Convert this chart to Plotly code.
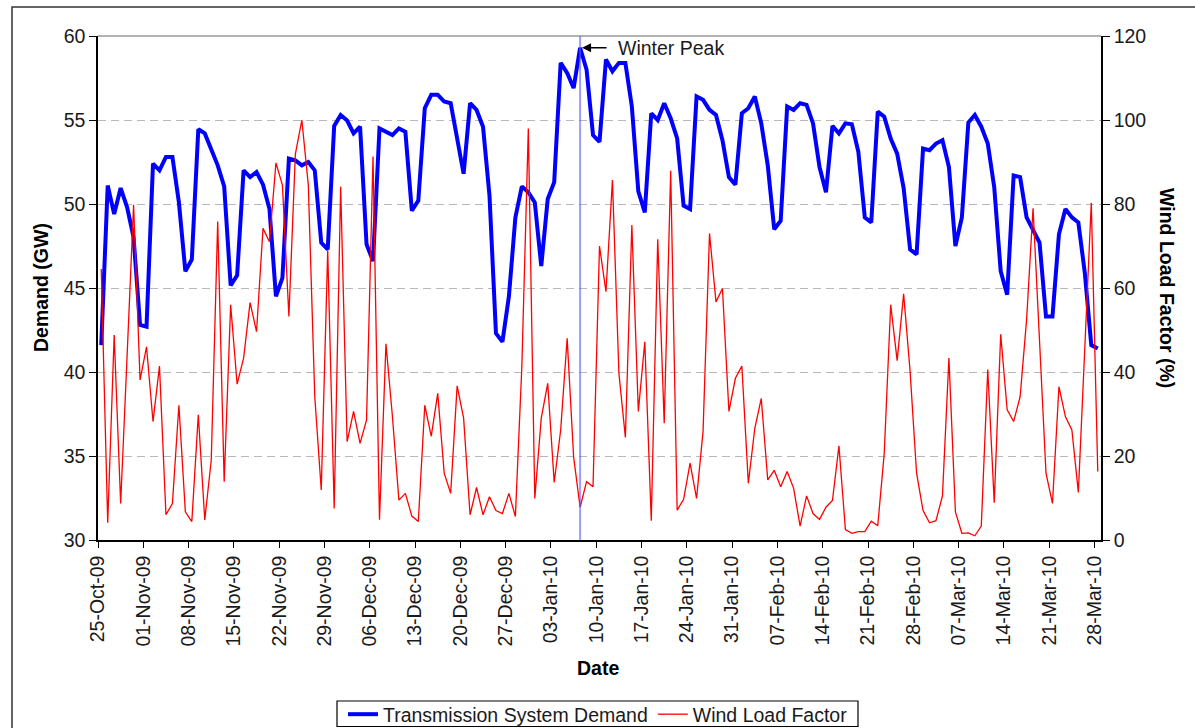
import pandas as pd
import plotly.graph_objects as go

# ---------------- data ----------------
start_date = "2009-10-25"
end_date = "2010-03-28"
dates = pd.date_range(start_date, end_date, freq="D") + pd.Timedelta(hours=12)

demand_gw = [
    41.6, 51.1, 49.4, 50.95, 49.8, 48.0, 42.8, 42.7, 52.4, 52.0,
    52.8, 52.8, 50.1, 46.0, 46.7, 54.45, 54.2, 53.3, 52.3, 51.05,
    45.15, 45.75, 52.0, 51.6, 51.9, 51.15, 49.7, 44.5, 45.6, 52.7,
    52.6, 52.3, 52.5, 52.0, 47.7, 47.3, 54.65, 55.3, 54.97, 54.2,
    54.6, 47.6, 46.6, 54.5, 54.3, 54.1, 54.5, 54.3, 49.6, 50.2,
    55.7, 56.5, 56.5, 56.1, 56.0, 53.8, 51.8, 56.0, 55.6, 54.6,
    50.5, 42.3, 41.8, 44.5, 49.2, 51.05, 50.7, 50.1, 46.3, 50.3,
    51.3, 58.4, 57.8, 56.9, 59.3, 58.0, 54.1, 53.7, 58.6, 57.9,
    58.4, 58.4, 55.8, 50.75, 49.5, 55.4, 55.0, 56.0, 55.1, 53.9,
    49.9, 49.7, 56.4, 56.2, 55.6, 55.3, 53.8, 51.6, 51.15, 55.4,
    55.7, 56.4, 54.8, 52.3, 48.5, 49.0, 55.8, 55.6, 56.0, 55.9,
    54.8, 52.2, 50.7, 54.65, 54.2, 54.8, 54.75, 53.1, 49.2, 48.9,
    55.5, 55.2, 53.9, 53.0, 50.95, 47.3, 47.0, 53.3, 53.2, 53.6,
    53.8, 52.2, 47.5, 49.2, 54.85, 55.3, 54.6, 53.6, 51.0, 46.0,
    44.6, 51.7, 51.6, 49.2, 48.5, 47.7, 43.3, 43.3, 48.2, 49.7,
    49.2, 48.9, 45.9, 41.6, 41.4,
]

wind_lf = [
    64.5, 4.1, 48.8, 8.7, 44.0, 79.8, 38.1, 46.0, 28.2, 41.4,
    6.0, 8.7, 32.1, 6.7, 4.4, 29.8, 4.8, 19.0, 75.8, 13.9,
    56.0, 37.1, 43.3, 56.5, 49.6, 74.2, 71.0, 89.8, 84.5, 53.2,
    91.9, 100.0, 84.5, 34.1, 11.9, 69.0, 7.5, 84.1, 23.4, 30.6,
    23.0, 28.6, 91.3, 4.8, 46.7, 29.4, 9.5, 11.1, 5.7, 4.4,
    32.1, 24.7, 34.9, 15.9, 11.1, 36.7, 29.0, 6.0, 12.5, 6.0,
    10.3, 7.0, 6.3, 11.1, 5.6, 41.3, 98.0, 9.9, 29.0, 37.3,
    13.7, 26.2, 48.0, 19.8, 7.8, 13.9, 12.7, 70.0, 59.1, 85.7,
    39.7, 24.4, 75.0, 30.6, 47.2, 4.6, 71.6, 27.8, 87.9, 7.1,
    9.7, 18.3, 9.9, 25.8, 73.0, 56.7, 59.9, 30.6, 38.5, 41.4,
    13.5, 26.6, 33.7, 14.3, 16.6, 12.7, 16.3, 12.3, 3.3, 10.5,
    6.3, 4.9, 7.8, 9.4, 22.4, 2.5, 1.6, 2.0, 2.0, 4.5,
    3.4, 20.6, 56.0, 42.7, 58.6, 40.1, 15.9, 7.0, 4.1, 4.6,
    10.5, 43.3, 6.7, 1.6, 1.7, 1.0, 3.3, 40.6, 8.9, 49.0,
    31.0, 28.2, 34.1, 52.4, 79.0, 48.4, 15.9, 8.7, 36.5, 29.4,
    26.2, 11.3, 45.2, 80.3, 16.3,
]

peak_date = pd.Timestamp("2010-01-07 12:00")
peak_value = 59.3
peak_label = "Winter Peak"

series_names = ["Transmission System Demand", "Wind Load Factor"]
x_title = "Date"
y_title = "Demand (GW)"
y2_title = "Wind Load Factor (%)"

# ---------------- layout constants ----------------
W, H = 1195, 728
ML, MR, MT, MB = 98, 94, 36, 188
PW = W - ML - MR
PH = H - MT - MB


def px_x(p):
    return (p - ML) / PW


def px_y(p):
    return (H - MB - p) / PH


FONT = "Liberation Sans, Arial, sans-serif"
FS = 19.5

fig = go.Figure()
fig.add_trace(go.Scatter(
    x=dates, y=demand_gw, name=series_names[0], mode="lines",
    line=dict(color="#0000FF", width=4), yaxis="y",
))
fig.add_trace(go.Scatter(
    x=dates, y=wind_lf, name=series_names[1], mode="lines",
    line=dict(color="#FF0000", width=1.3), yaxis="y2",
))

fig.update_layout(
    width=W, height=H,
    margin=dict(l=ML, r=MR, t=MT, b=MB, pad=0, autoexpand=False),
    paper_bgcolor="white", plot_bgcolor="white",
    font=dict(family=FONT, size=FS, color="#1a1a1a"),
    showlegend=True,
    legend=dict(
        orientation="h", x=px_x(598), xanchor="center",
        y=px_y(695), yanchor="top",
        borderwidth=0, bgcolor="rgba(0,0,0,0)",
        font=dict(size=FS, color="#1a1a1a"),
        itemwidth=30, tracegroupgap=0,
    ),
    xaxis=dict(
        type="date", automargin=False,
        range=[pd.Timestamp(start_date), pd.Timestamp(end_date) + pd.Timedelta(days=1)],
        tick0=pd.Timestamp(start_date), dtick=7 * 24 * 3600 * 1000,
        tickformat="%d-%b-%y", tickangle=-90,
        ticks="outside", ticklen=6, tickcolor="black", tickwidth=1.2,
        showline=True, linecolor="black", linewidth=1.5,
        showgrid=False, zeroline=False,
        tickfont=dict(size=FS, color="#1a1a1a"),
    ),
    yaxis=dict(
        range=[30, 60], dtick=5, tick0=30, automargin=False,
        ticks="outside", ticklen=7, tickcolor="black", tickwidth=1.2,
        showline=True, linecolor="black", linewidth=1.5,
        showgrid=True, gridcolor="#b8b8b8", gridwidth=1, griddash="8px,5px",
        zeroline=False,
        tickfont=dict(size=FS, color="#1a1a1a"),
    ),
    yaxis2=dict(
        range=[0, 120], dtick=20, tick0=0, automargin=False,
        overlaying="y", side="right",
        ticks="outside", ticklen=7, tickcolor="black", tickwidth=1.2,
        showline=True, linecolor="black", linewidth=1.5,
        showgrid=False, zeroline=False,
        tickfont=dict(size=FS, color="#1a1a1a"),
    ),
)

# top border of plot area (grey), outer chart frame
fig.add_shape(type="line", xref="paper", yref="paper", x0=0, x1=1, y0=1, y1=1,
              line=dict(color="#9a9a9a", width=1.5), layer="below")
fig.add_shape(type="rect", xref="paper", yref="paper",
              x0=px_x(12), x1=px_x(1210), y0=px_y(740), y1=px_y(7),
              line=dict(color="#333333", width=1.5), fillcolor="rgba(0,0,0,0)")
# legend frame
fig.add_shape(type="rect", xref="paper", yref="paper",
              x0=px_x(337), x1=px_x(858), y0=px_y(726.5), y1=px_y(701),
              line=dict(color="black", width=1.2), fillcolor="rgba(0,0,0,0)")

# winter peak marker line
fig.add_shape(type="line", xref="x", yref="paper", x0=peak_date, x1=peak_date, y0=0, y1=1,
              line=dict(color="rgba(90,90,255,0.6)", width=2))

# arrow + label
fig.add_annotation(x=peak_date, y=peak_value, xref="x", yref="y", text="",
                   showarrow=True, ax=28, ay=0, arrowhead=2, arrowsize=1.2,
                   arrowwidth=1.5, arrowcolor="black", standoff=2)
fig.add_annotation(x=peak_date, y=peak_value, xref="x", yref="y", text=peak_label,
                   showarrow=False, xanchor="left", yanchor="middle", xshift=36,
                   font=dict(size=FS, color="#1a1a1a"))

# axis titles
fig.add_annotation(x=px_x(41), y=0.5, xref="paper", yref="paper", text="<b>%s</b>" % y_title,
                   showarrow=False, textangle=-90, xanchor="center", yanchor="middle",
                   font=dict(size=FS, color="black"))
fig.add_annotation(x=px_x(1167), y=0.5, xref="paper", yref="paper", text="<b>%s</b>" % y2_title,
                   showarrow=False, textangle=90, xanchor="center", yanchor="middle",
                   font=dict(size=FS, color="black"))
fig.add_annotation(x=px_x(598), y=px_y(668), xref="paper", yref="paper", text="<b>%s</b>" % x_title,
                   showarrow=False, xanchor="center", yanchor="middle",
                   font=dict(size=FS, color="black"))

fig.write_html(
    "out.html",
    config={"displayModeBar": False},
    post_script="document.body.style.margin='0px';document.body.style.overflow='hidden';",
)
